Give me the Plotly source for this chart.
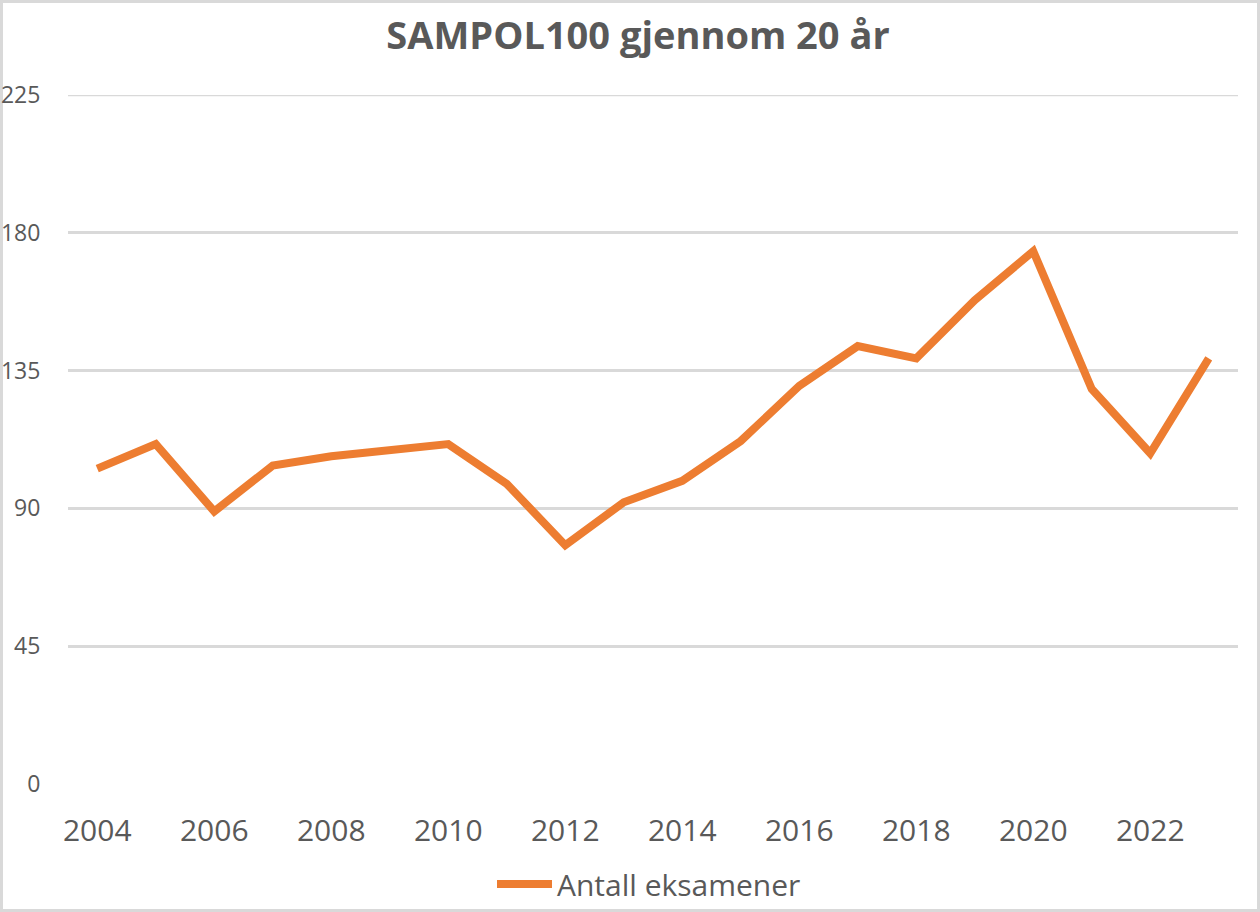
import plotly.graph_objects as go

years = list(range(2004, 2024))
antall = [103, 111, 89, 104, 107, 109, 111, 98, 78, 92, 99, 112, 130, 143, 139, 158, 174, 129, 108, 139]
series_name = "Antall eksamener"
title_text = "SAMPOL100 gjennom 20 år"
y_ticks = [0, 45, 90, 135, 180, 225]
x_ticks = [2004, 2006, 2008, 2010, 2012, 2014, 2016, 2018, 2020, 2022]

W, H = 1260, 912
L, R, T, B = 68, 22, 95, 128
pw, ph = W - L - R, H - T - B
LINE_COLOR = "#ED7D31"
TEXT_COLOR = "#595959"
GRID_COLOR = "#D9D9D9"

def px_x(p):
    return (p - L) / pw

def px_y(p):
    return (H - B - p) / ph

fig = go.Figure()

# top gridline (at the range edge)
fig.add_shape(type="line", xref="paper", yref="y", x0=0, x1=1, y0=y_ticks[-1], y1=y_ticks[-1],
              line=dict(color=GRID_COLOR, width=2.5), layer="below")

fig.add_trace(go.Scatter(
    x=years, y=antall, mode="lines", name=series_name,
    line=dict(color=LINE_COLOR, width=8), showlegend=False,
))

# chart border
fig.add_shape(type="rect", xref="paper", yref="paper",
              x0=px_x(1.5), x1=px_x(W - 1.5), y0=px_y(H - 1.5), y1=px_y(1.5),
              line=dict(color=GRID_COLOR, width=3), fillcolor="rgba(0,0,0,0)", layer="below")

# legend (drawn manually to match the long symbol line)
fig.add_shape(type="line", xref="paper", yref="paper",
              x0=px_x(497), x1=px_x(552), y0=px_y(884), y1=px_y(884),
              line=dict(color=LINE_COLOR, width=8))
fig.add_annotation(xref="paper", yref="paper", x=px_x(555), y=px_y(884),
                   xanchor="left", yanchor="middle", text=series_name, showarrow=False,
                   font=dict(size=30, color=TEXT_COLOR, family="Open Sans"))

fig.update_layout(
    width=W, height=H,
    margin=dict(l=L, r=R, t=T, b=B, autoexpand=False),
    paper_bgcolor="white", plot_bgcolor="white",
    font=dict(family="Open Sans", color=TEXT_COLOR),
    title=dict(text="<b>" + title_text + "</b>", x=638 / W, xanchor="center",
               y=1 - 36 / H, yanchor="middle",
               font=dict(size=38, color=TEXT_COLOR, family="Open Sans")),
    showlegend=False,
    xaxis=dict(range=[2003.5, 2023.5], tickvals=x_ticks, showgrid=False, zeroline=False,
               showline=False, ticks="outside", ticklen=20, tickcolor="rgba(0,0,0,0)",
               tickfont=dict(size=30, color=TEXT_COLOR), automargin=False),
    yaxis=dict(range=[0, 225], tickvals=y_ticks, showgrid=True, gridcolor=GRID_COLOR,
               gridwidth=2.5, zeroline=False, showline=False, ticks="outside", ticklen=22,
               tickcolor="rgba(0,0,0,0)", tickfont=dict(size=23, color=TEXT_COLOR),
               automargin=False),
)

fig.write_html("out.html", config={"displayModeBar": False},
               post_script="document.body.style.margin='0';document.body.style.overflow='hidden';")
